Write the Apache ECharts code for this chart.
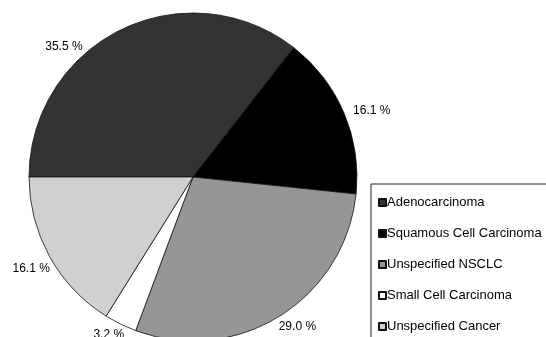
<!DOCTYPE html>
<html>
<head>
<meta charset="utf-8">
<script src="https://cdn.jsdelivr.net/npm/echarts@6/dist/echarts.min.js"></script>
<style>
  html, body { margin: 0; padding: 0; background: #fff; }
  #chart { width: 546px; height: 337px; }
</style>
</head>
<body>
<div id="chart"></div>
<script>
// Tumour histology breakdown (percent of patients)
const categories = [
  'Adenocarcinoma',
  'Squamous Cell Carcinoma',
  'Unspecified NSCLC',
  'Small Cell Carcinoma',
  'Unspecified Cancer'
];
const shares = [35.5, 16.1, 29.0, 3.2, 16.1];
const sliceColors = ['#333333', '#000000', '#969696', '#ffffff', '#d0d0d0'];

// small nudges applied to the outside percentage labels [dx, dy]
const labelNudge = [[-34, 26], [0, 2], [-6, 2], [8, 2], [9, 7]];

const chart = echarts.init(document.getElementById('chart'), null, { renderer: 'canvas' });

chart.setOption({
  animation: false,
  backgroundColor: '#ffffff',
  textStyle: { fontFamily: '"Liberation Sans", Arial, sans-serif' },
  legend: {
    orient: 'vertical',
    left: 371,
    top: 184,
    width: 200,
    height: 200,
    padding: [12, 40, 40, 7],
    borderColor: '#222',
    borderWidth: 1,
    itemWidth: 7,
    itemHeight: 7,
    itemGap: 18,
    icon: 'rect',
    selectedMode: false,
    textStyle: { fontSize: 13, color: '#000', lineHeight: 13, padding: [0, 0, 0, -4] },
    data: categories
  },
  series: [{
    type: 'pie',
    center: [193, 177],
    radius: 164,
    startAngle: 180,
    clockwise: true,
    avoidLabelOverlap: false,
    silent: true,
    itemStyle: { borderColor: '#111', borderWidth: 0.8 },
    label: {
      show: true,
      position: 'outside',
      formatter: p => p.value.toFixed(1) + ' %',
      fontSize: 12,
      color: '#000',
      distanceToLabelLine: 0
    },
    labelLine: { show: false, length: 10, length2: 0 },
    labelLayout: p => ({ dx: labelNudge[p.dataIndex][0], dy: labelNudge[p.dataIndex][1] }),
    data: categories.map((name, i) => ({
      name: name,
      value: shares[i],
      itemStyle: { color: sliceColors[i] }
    }))
  }]
});
</script>
</body>
</html>
